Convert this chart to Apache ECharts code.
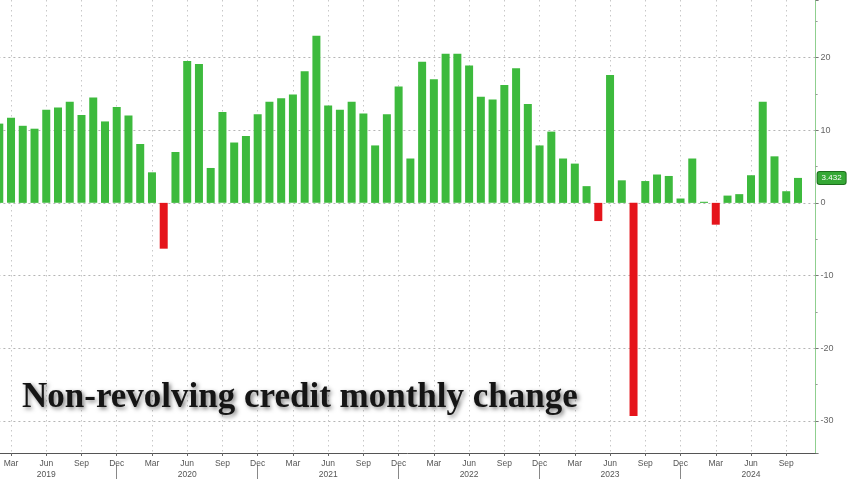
<!DOCTYPE html>
<html lang="en" style="height: 100%">
<head>
  <meta charset="utf-8">
</head>
<body style="height: 100%; margin: 0; background: #fff">
  <div id="container" style="height: 100%"></div>

  <script type="text/javascript" src="https://cdn.jsdelivr.net/npm/echarts@6/dist/echarts.min.js"></script>
  <script type="text/javascript">
    // monthly change, $bn, Feb 2019 .. Oct 2024 (Nov 2024 left empty as padding)
    var monthNames = ['Jan', 'Feb', 'Mar', 'Apr', 'May', 'Jun', 'Jul', 'Aug', 'Sep', 'Oct', 'Nov', 'Dec'];
    var quarterMonths = ['Mar', 'Jun', 'Sep', 'Dec'];
    var values2019 = [10.9, 11.7, 10.6, 10.2, 12.8, 13.1, 13.9, 12.1, 14.5, 11.2, 13.2]; // from Feb
    var values2020 = [12.0, 8.1, 4.2, -6.3, 7.0, 19.5, 19.1, 4.8, 12.5, 8.3, 9.2, 12.2];
    var values2021 = [13.9, 14.4, 14.9, 18.1, 23.0, 13.4, 12.8, 13.9, 12.3, 7.9, 12.2, 16.0];
    var values2022 = [6.1, 19.4, 17.0, 20.5, 20.5, 18.9, 14.6, 14.2, 16.2, 18.5, 13.6, 7.9];
    var values2023 = [9.8, 6.1, 5.4, 2.3, -2.5, 17.6, 3.1, -29.3, 3.0, 3.9, 3.7, 0.6];
    var values2024 = [6.1, 0.15, -3.0, 1.0, 1.2, 3.8, 13.9, 6.4, 1.6, 3.432]; // to Oct
    var yTicks = [-30, -20, -10, 0, 10, 20];

    var categories = [];
    for (var y = 2019; y <= 2024; y++) {
      for (var m = 0; m < 12; m++) {
        if (y === 2019 && m < 1) continue;
        if (y === 2024 && m > 10) continue;
        categories.push(monthNames[m] + ' ' + y);
      }
    }
    var values = [].concat(values2019, values2020, values2021, values2022, values2023, values2024);
    var lastValue = values[values.length - 1];
    while (values.length < categories.length) values.push('-');

    function isQuarter(i) {
      return quarterMonths.indexOf(categories[i].split(' ')[0]) >= 0;
    }

    var dom = document.getElementById('container');
    var myChart = echarts.init(dom, null, { renderer: 'canvas' });
    var option;

    option = {
      animation: false,
      backgroundColor: '#fff',
      title: {
        text: 'Non-revolving credit monthly change',
        left: 22,
        top: 380,
        padding: 0,
        textStyle: {
          fontFamily: 'Liberation Serif',
          fontSize: 35,
          fontWeight: 'bold',
          color: '#151515',
          textShadowColor: 'rgba(0,0,0,0.5)',
          textShadowBlur: 4,
          textShadowOffsetX: 2,
          textShadowOffsetY: 2
        }
      },
      grid: {
        left: -6.6,
        right: 32.4,
        top: 0,
        bottom: 26,
        containLabel: false,
        outerBoundsMode: 'none'
      },
      xAxis: [
        {
          type: 'category',
          data: categories,
          position: 'bottom',
          axisLine: { onZero: false, lineStyle: { color: '#555', width: 1 } },
          axisTick: { show: true, length: 3, alignWithLabel: true, lineStyle: { color: '#666' } },
          axisLabel: {
            interval: function (i) { return isQuarter(i); },
            formatter: function (v) {
              var p = v.split(' ');
              return p[0] === 'Jun' ? p[0] + '\n' + p[1] : p[0];
            },
            fontFamily: 'Liberation Sans',
            fontSize: 8.5,
            color: '#555',
            margin: 5,
            lineHeight: 11,
            hideOverlap: false
          },
          splitLine: {
            show: true,
            interval: function (i) { return isQuarter(i); },
            alignWithLabel: true,
            lineStyle: { color: '#c8c8c8', type: [1.5, 3.5], width: 1 }
          }
        },
        {
          // year separators under the labels
          type: 'category',
          data: categories,
          position: 'bottom',
          offset: 12,
          axisLine: { show: false, onZero: false },
          axisTick: {
            show: true,
            length: 14,
            alignWithLabel: true,
            interval: function (i) { return categories[i].indexOf('Dec') === 0; },
            lineStyle: { color: '#888' }
          },
          axisLabel: { show: false },
          splitLine: { show: false }
        }
      ],
      yAxis: {
        type: 'value',
        position: 'right',
        min: -34.4,
        max: 27.9,
        splitNumber: 6,
        axisLine: { show: true, lineStyle: { color: '#8fcf8f', width: 1 } },
        axisTick: { show: true, length: 3, lineStyle: { color: '#777' } },
        minorTick: { show: true, splitNumber: 2, length: 2, lineStyle: { color: '#999' } },
        axisLabel: {
          formatter: function (v) { return yTicks.indexOf(Math.round(v * 10) / 10) >= 0 ? String(v) : ''; },
          fontFamily: 'Liberation Sans',
          fontSize: 9,
          color: '#666',
          margin: 5,
          showMinLabel: false,
          showMaxLabel: false
        },
        splitLine: {
          show: true,
          showMinLine: false,
          showMaxLine: false,
          lineStyle: { color: '#b5b5b5', type: [2, 3], width: 1 }
        },
        axisPointer: {
          show: true,
          value: lastValue,
          status: 'show',
          triggerTooltip: false,
          lineStyle: { opacity: 0 },
          label: {
            show: true,
            formatter: function (p) { return p.value.toFixed(3); },
            backgroundColor: '#35a835',
            borderColor: '#1d6e1d',
            borderWidth: 1,
            borderRadius: 2,
            color: '#fff',
            fontSize: 8,
            padding: [2, 4],
            margin: 2
          }
        }
      },
      series: [
        {
          name: 'Non-revolving credit',
          type: 'bar',
          xAxisIndex: 0,
          data: values,
          barWidth: 8,
          itemStyle: {
            color: function (p) { return p.value < 0 ? '#e5141b' : '#3dba3d'; }
          }
        }
      ]
    };

    if (option && typeof option === 'object') {
      myChart.setOption(option);
    }

    window.addEventListener('resize', myChart.resize);
  </script>
</body>
</html>
